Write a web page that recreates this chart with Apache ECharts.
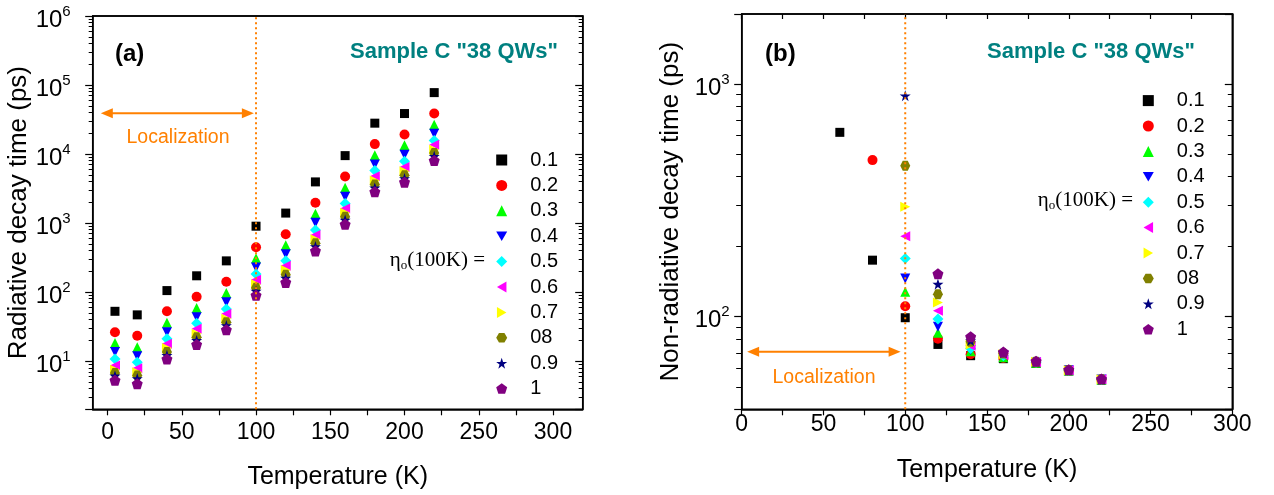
<!DOCTYPE html>
<html><head><meta charset="utf-8">
<script src="https://cdn.jsdelivr.net/npm/echarts@6/dist/echarts.min.js"></script>
<style>html,body{margin:0;padding:0;background:#fff}#c{width:1274px;height:495px;background:#fff}</style>
</head><body><div id="c"></div>
<script>
// ---- data ----
const seriesNames = ['0.1','0.2','0.3','0.4','0.5','0.6','0.7','08','0.9','1'];
const colors = ['#000000','#ff0000','#00ff00','#0000ff','#00ffff','#ff00ff','#ffff00','#808000','#000080','#800080'];
const tempsA = [5,20,40,60,80,100,120,140,160,180,200,220];
const radA_01 = [52.6,46.7,105,172,283,900,1394,3945,9480,28000,38600,77600];
const radA_02 = [26.2,23.2,52.6,85.7,141,446,687,1964,4720,13930,19200,38600];
const radA_03 = [18.2,15.9,35.8,58.9,96.8,308,477,1362,3236,9580,13350,26500];
const radA_04 = [13.5,11.7,26.2,43.1,71,227,353,1011,2400,7030,9800,19700];
const radA_05 = [10.7,9.6,21,35.3,57,182,283,794,1925,5760,7840,15700];
const radA_06 = [8.6,7.9,17.8,29.3,48.3,151,240,673,1630,4760,6490,13640];
const radA_07 = [7.5,6.9,15.4,24.8,40.9,130,208,582,1409,4130,5620,11560];
const radA_08 = [6.7,6.2,13.5,22.2,36.6,115,178,510,1233,3614,4930,10330];
const radA_09 = [6.1,5.6,12.1,19.9,32.8,103,159,456,1106,3230,4415,9270];
const radA_10 = [5.27,4.7,10.7,17.4,28.4,90,138,395,959,2830,3910,8030];
const tempsB = [60,80,100,120,140,160,180,200,220];
const nrB_01 = [620,175,99,76,68,66,63,58.5,53.5];
const nrB_02 = [null,471,111,80.4,69,66.5,63.2,58.6,53.6];
const nrB_03 = [null,null,128,85.4,71,67,63.4,58.7,53.6];
const nrB_04 = [null,null,146,90.6,72,67.5,63.6,58.8,53.7];
const nrB_05 = [null,null,178,97.7,73,68,63.7,58.8,53.7];
const nrB_06 = [null,null,222,106,75,68.5,63.8,58.9,53.8];
const nrB_07 = [null,null,297,115,76,69,64,58.9,53.8];
const nrB_08 = [null,null,445,125,78,69.5,64.1,59,53.8];
const nrB_09 = [null,null,891,138,79,70,64.2,59,53.9];
const nrB_10 = [null,null,null,153,82,70.5,64.4,59.1,54];
const radA = [radA_01,radA_02,radA_03,radA_04,radA_05,radA_06,radA_07,radA_08,radA_09,radA_10];
const nrB = [nrB_01,nrB_02,nrB_03,nrB_04,nrB_05,nrB_06,nrB_07,nrB_08,nrB_09,nrB_10];
// annotations (data coordinates)
const localizationT = 100;
const rangeA = [2, 1e6];
const rangeB = [40, 2000];
const arrowA = [[-0.5, 39000],[94.5, 39000]];   // arrow-head centres
const arrowB = [[7, 70.7],[93.5, 70.7]];
// x tick values
const xTicks = [0,25,50,75,100,125,150,175,200,225,250,275,300];
const xLabels = [0,50,100,150,200,250,300];

// ---- styles ----
const symbols = [
  'rect','circle','triangle',
  'path://M0,0L10,0L5,8.66Z',
  'diamond',
  'path://M8.66,0L8.66,10L0,5Z',
  'path://M0,0L0,10L8.66,5Z',
  'path://M2.5,0L7.5,0L10,4.33L7.5,8.66L2.5,8.66L0,4.33Z',
  'path://M5,0L6.18,3.62L9.76,3.62L6.87,5.86L7.94,9.51L5,7.27L2.06,9.51L3.13,5.86L0.24,3.62L3.82,3.62Z',
  'path://M5,0L9.76,3.45L7.94,9.05L2.06,9.05L0.24,3.45Z'
];
const sizes = [9,10,10,10,11,10,10,10,11,11];
const F = 'Liberation Sans, Arial, sans-serif';
const ORANGE = '#ff8000';

function logLabel(v){
  const l = Math.log10(v), e = Math.round(l);
  if (Math.abs(l - e) > 1e-6) return '';
  return '{b|10}{s|' + e + '}';
}
function axLine(){ return {show: true, onZero: false, lineStyle: {color: '#000', width: 1.5}}; }

function yLeft(grid, range, margin, name, minorLen){
  return {
    type: 'log', logBase: 10, gridIndex: grid, min: range[0], max: range[1], position: 'left',
    axisLine: axLine(),
    axisTick: {show: true, length: 7.5, lineStyle: {color: '#000', width: 1.2}},
    minorTick: {show: true, splitNumber: 9, length: minorLen, lineStyle: {color: '#000', width: 1}},
    splitLine: {show: false},
    axisLabel: {formatter: logLabel, margin: margin,
      rich: {
        b: {fontSize: 24, fontFamily: F, color: '#000', lineHeight: 24, padding: [8,0,0,0]},
        s: {fontSize: 15, fontFamily: F, color: '#000', lineHeight: 18, verticalAlign: 'top'}
      }},
    name: name, nameLocation: 'middle', nameGap: 58, nameRotate: 90,
    nameTextStyle: {fontSize: 26, fontFamily: F, color: '#000'}
  };
}
function yRight(grid, range, minorLen){
  return {
    type: 'log', logBase: 10, gridIndex: grid, min: range[0], max: range[1], position: 'right',
    axisLine: axLine(),
    axisTick: {show: true, inside: true, length: 7.5, lineStyle: {color: '#000', width: 1.2}},
    minorTick: {show: true, splitNumber: 9, length: minorLen, lineStyle: {color: '#000', width: 1}},
    splitLine: {show: false},
    axisLabel: {show: false}
  };
}

const series = [];
seriesNames.forEach((n, i) => {
  series.push({
    name: n, type: 'scatter', xAxisIndex: 0, yAxisIndex: 0,
    symbol: symbols[i], symbolSize: sizes[i],
    itemStyle: {color: colors[i], opacity: 1},
    data: tempsA.map((t, k) => [t, radA[i][k]])
  });
});
seriesNames.forEach((n, i) => {
  series.push({
    name: n, type: 'scatter', xAxisIndex: 2, yAxisIndex: 2,
    symbol: symbols[i], symbolSize: sizes[i],
    itemStyle: {color: colors[i], opacity: 1},
    data: tempsB.map((t, k) => nrB[i][k] == null ? null : [t, nrB[i][k]]).filter(d => d)
  });
});
function vLine(xi, yi, range){
  return {
    name: 'limit', type: 'line', xAxisIndex: xi, yAxisIndex: yi, z: 4, silent: true,
    showSymbol: false, symbol: 'none',
    lineStyle: {color: ORANGE, width: 2, type: [2, 3]},
    data: [[localizationT, range[0]], [localizationT, range[1]]]
  };
}
function arrow(xi, yi, pts){
  return {
    name: 'arrow', type: 'line', xAxisIndex: xi, yAxisIndex: yi, z: 4, silent: true,
    showSymbol: true, showAllSymbol: true, symbolSize: [10, 12],
    itemStyle: {color: ORANGE},
    lineStyle: {color: ORANGE, width: 2},
    data: [
      {value: pts[0], symbol: 'triangle', symbolRotate: 90},
      {value: pts[1], symbol: 'triangle', symbolRotate: -90}
    ]
  };
}
series.push(vLine(0, 0, rangeA), vLine(2, 2, rangeB), arrow(0, 0, arrowA), arrow(2, 2, arrowB));

function legendDef(left, top){
  return {
    left: left, top: top,
    orient: 'vertical', itemWidth: 11, itemHeight: 11, itemGap: 5.4,
    textStyle: {fontSize: 20, fontFamily: F, color: '#000', lineHeight: 20, padding: [0, 0, 0, 18]},
    data: seriesNames.slice(), selectedMode: false
  };
}
function serifLabel(){
  return {t: {fontSize: 21, fontFamily: 'Liberation Serif, serif', fill: '#000', lineHeight: 24},
          o: {fontSize: 13, fontFamily: 'Liberation Serif, serif', fill: '#000', lineHeight: 24, verticalAlign: 'bottom', padding: [8,0,0,0]}};
}
const tickStyle = {color: '#000', width: 1.2};

const option = {
  animation: false,
  grid: [
    {left: 92.7, top: 14, width: 490, height: 395.3, show: true, borderColor: '#000', borderWidth: 1.5, backgroundColor: 'transparent'},
    {left: 741.7, top: 14, width: 490.6, height: 395.3, show: true, borderColor: '#000', borderWidth: 1.5, backgroundColor: 'transparent'}
  ],
  xAxis: [
    {type: 'value', gridIndex: 0, min: -10, max: 320, position: 'bottom',
     axisLine: axLine(),
     axisTick: {show: true, length: 6, customValues: xTicks, lineStyle: tickStyle},
     splitLine: {show: false},
     axisLabel: {fontSize: 23, fontFamily: F, color: '#000', margin: 12, customValues: xLabels},
     name: 'Temperature (K)', nameLocation: 'middle', nameGap: 55,
     nameTextStyle: {fontSize: 25, fontFamily: F, color: '#000'}},
    {type: 'value', gridIndex: 0, min: -10, max: 320, position: 'top',
     axisLine: axLine(), axisTick: {show: false}, axisLabel: {show: false}, splitLine: {show: false}},
    {type: 'value', gridIndex: 1, min: 0, max: 300, interval: 50, position: 'bottom',
     axisLine: axLine(),
     axisTick: {show: true, length: 6, customValues: xTicks, lineStyle: tickStyle},
     splitLine: {show: false},
     axisLabel: {fontSize: 23, fontFamily: F, color: '#000', margin: 4},
     name: 'Temperature (K)', nameLocation: 'middle', nameGap: 48,
     nameTextStyle: {fontSize: 25, fontFamily: F, color: '#000'}},
    {type: 'value', gridIndex: 1, min: 0, max: 300, interval: 25, position: 'top',
     axisLine: axLine(), axisTick: {show: true, inside: true, length: 5, lineStyle: tickStyle},
     axisLabel: {show: false}, splitLine: {show: false}}
  ],
  yAxis: [
    yLeft(0, rangeA, 22, 'Radiative decay time (ps)', 4),
    yRight(0, rangeA, 4),
    yLeft(1, rangeB, 12, 'Non-radiative decay time (ps)', 5.5),
    yRight(1, rangeB, 4.5)
  ],
  legend: [legendDef(491.2, 145), legendDef(1137.8, 85.6)],
  graphic: [
    {type: 'text', left: 115, top: 42, style: {text: '(a)', fontSize: 24, fontWeight: 'bold', fontFamily: F, fill: '#000'}},
    {type: 'text', left: 765, top: 42, style: {text: '(b)', fontSize: 24, fontWeight: 'bold', fontFamily: F, fill: '#000'}},
    {type: 'text', right: 1274 - 558, top: 41, style: {text: 'Sample C "38 QWs"', fontSize: 22, fontWeight: 'bold', fontFamily: F, fill: '#008080'}},
    {type: 'text', right: 1274 - 1195, top: 41, style: {text: 'Sample C "38 QWs"', fontSize: 22, fontWeight: 'bold', fontFamily: F, fill: '#008080'}},
    {type: 'text', x: 178, y: 138, style: {text: 'Localization', fontSize: 19.5, fontFamily: F, fill: ORANGE, align: 'center', verticalAlign: 'middle'}},
    {type: 'text', x: 824, y: 378, style: {text: 'Localization', fontSize: 19.5, fontFamily: F, fill: ORANGE, align: 'center', verticalAlign: 'middle'}},
    {type: 'text', x: 485, y: 260, style: {text: '{t|η}{o|o}{t|(100K) =}', align: 'right', verticalAlign: 'middle', rich: serifLabel()}},
    {type: 'text', x: 1133, y: 200, style: {text: '{t|η}{o|o}{t|(100K) =}', align: 'right', verticalAlign: 'middle', rich: serifLabel()}}
  ],
  series: series
};
const chart = echarts.init(document.getElementById('c'), null, {renderer: 'canvas'});
chart.setOption(option);
</script></body></html>
